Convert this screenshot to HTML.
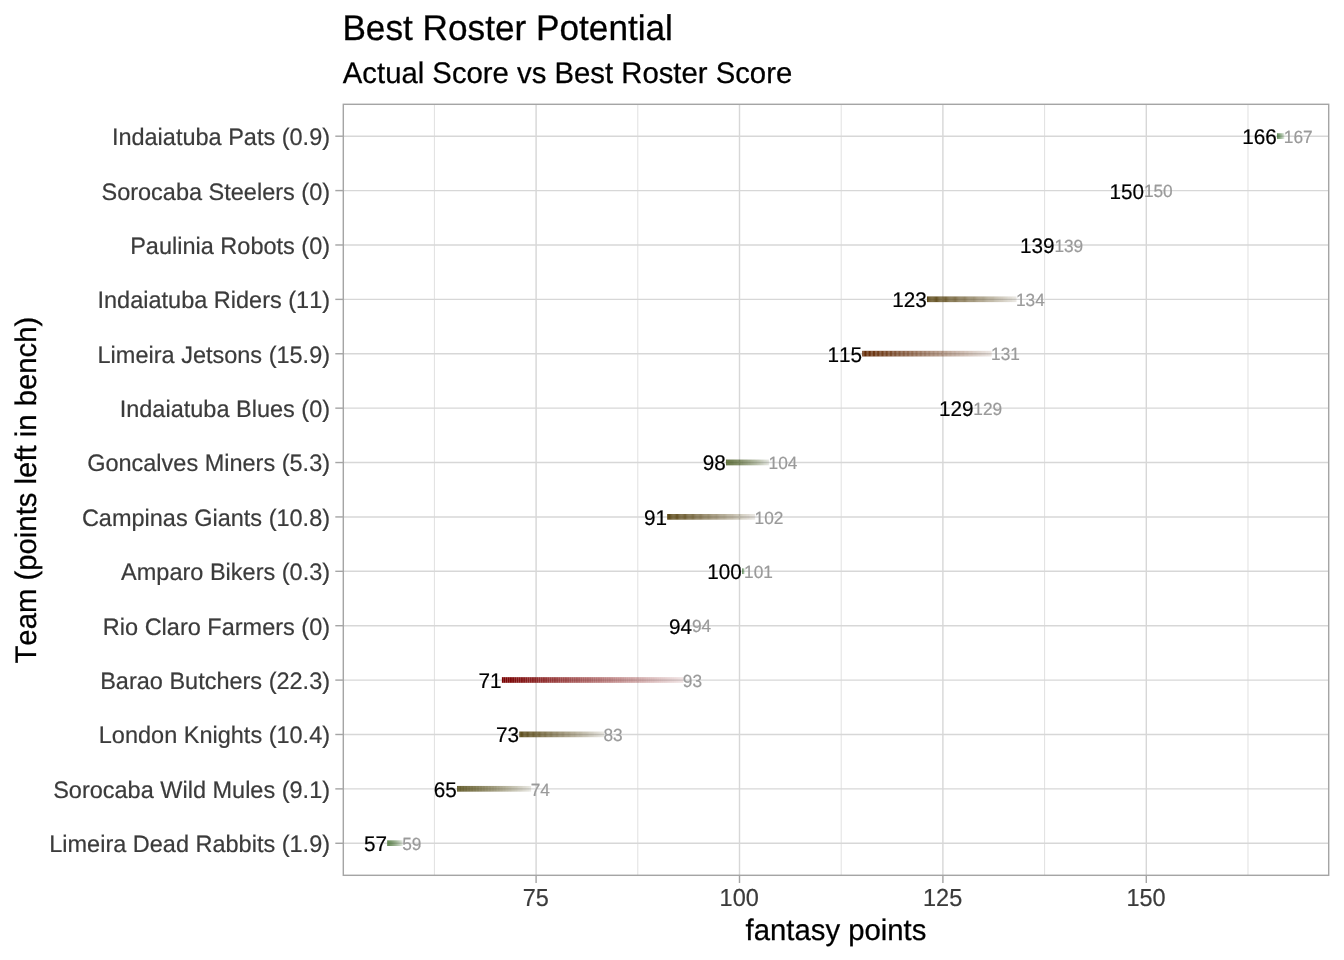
<!DOCTYPE html>
<html><head><meta charset="utf-8"><title>Best Roster Potential</title>
<style>
html,body{margin:0;padding:0;background:#fff;}
body{width:1344px;height:960px;overflow:hidden;}
svg{display:block;will-change:transform;}
text{font-family:"Liberation Sans", sans-serif;font-kerning:none;font-variant-ligatures:none;text-rendering:geometricPrecision;}
</style></head><body>
<svg width="1344" height="960" viewBox="0 0 1344 960">
<rect x="0" y="0" width="1344" height="960" fill="#ffffff"/>
<line x1="434.40" y1="104.30" x2="434.40" y2="875.30" stroke="#d7d7d7" stroke-width="0.78"/>
<line x1="637.80" y1="104.30" x2="637.80" y2="875.30" stroke="#d7d7d7" stroke-width="0.78"/>
<line x1="841.20" y1="104.30" x2="841.20" y2="875.30" stroke="#d7d7d7" stroke-width="0.78"/>
<line x1="1044.60" y1="104.30" x2="1044.60" y2="875.30" stroke="#d7d7d7" stroke-width="0.78"/>
<line x1="1248.00" y1="104.30" x2="1248.00" y2="875.30" stroke="#d7d7d7" stroke-width="0.78"/>
<line x1="536.10" y1="104.30" x2="536.10" y2="875.30" stroke="#d7d7d7" stroke-width="1.42"/>
<line x1="739.50" y1="104.30" x2="739.50" y2="875.30" stroke="#d7d7d7" stroke-width="1.42"/>
<line x1="942.90" y1="104.30" x2="942.90" y2="875.30" stroke="#d7d7d7" stroke-width="1.42"/>
<line x1="1146.30" y1="104.30" x2="1146.30" y2="875.30" stroke="#d7d7d7" stroke-width="1.42"/>
<line x1="343.30" y1="136.20" x2="1328.70" y2="136.20" stroke="#d7d7d7" stroke-width="1.42"/>
<line x1="343.30" y1="190.59" x2="1328.70" y2="190.59" stroke="#d7d7d7" stroke-width="1.42"/>
<line x1="343.30" y1="244.98" x2="1328.70" y2="244.98" stroke="#d7d7d7" stroke-width="1.42"/>
<line x1="343.30" y1="299.37" x2="1328.70" y2="299.37" stroke="#d7d7d7" stroke-width="1.42"/>
<line x1="343.30" y1="353.76" x2="1328.70" y2="353.76" stroke="#d7d7d7" stroke-width="1.42"/>
<line x1="343.30" y1="408.15" x2="1328.70" y2="408.15" stroke="#d7d7d7" stroke-width="1.42"/>
<line x1="343.30" y1="462.54" x2="1328.70" y2="462.54" stroke="#d7d7d7" stroke-width="1.42"/>
<line x1="343.30" y1="516.93" x2="1328.70" y2="516.93" stroke="#d7d7d7" stroke-width="1.42"/>
<line x1="343.30" y1="571.32" x2="1328.70" y2="571.32" stroke="#d7d7d7" stroke-width="1.42"/>
<line x1="343.30" y1="625.71" x2="1328.70" y2="625.71" stroke="#d7d7d7" stroke-width="1.42"/>
<line x1="343.30" y1="680.10" x2="1328.70" y2="680.10" stroke="#d7d7d7" stroke-width="1.42"/>
<line x1="343.30" y1="734.49" x2="1328.70" y2="734.49" stroke="#d7d7d7" stroke-width="1.42"/>
<line x1="343.30" y1="788.88" x2="1328.70" y2="788.88" stroke="#d7d7d7" stroke-width="1.42"/>
<line x1="343.30" y1="843.27" x2="1328.70" y2="843.27" stroke="#d7d7d7" stroke-width="1.42"/>
<g fill="#0d4f00">
<rect x="1277" y="133.26" width="1" height="5.67" fill-opacity="0.624"/>
<rect x="1278" y="133.26" width="1" height="5.67" fill-opacity="0.571"/>
<rect x="1279" y="133.26" width="1" height="5.67" fill-opacity="0.511"/>
<rect x="1280" y="133.26" width="1" height="5.67" fill-opacity="0.444"/>
<rect x="1281" y="133.26" width="1" height="5.67" fill-opacity="0.368"/>
<rect x="1282" y="133.26" width="1" height="5.67" fill-opacity="0.283"/>
<rect x="1283" y="133.26" width="1" height="5.67" fill-opacity="0.187"/>
<rect x="1284" y="133.26" width="1" height="5.67" fill-opacity="0.040"/>
</g>
<g fill="#4d3700">
<rect x="927.000" y="296.44" width="0.904" height="5.67" fill-opacity="1.000"/>
<rect x="927.904" y="296.44" width="0.904" height="5.67" fill-opacity="0.991"/>
<rect x="928.808" y="296.44" width="0.904" height="5.67" fill-opacity="0.982"/>
<rect x="929.712" y="296.44" width="0.904" height="5.67" fill-opacity="0.973"/>
<rect x="930.616" y="296.44" width="0.904" height="5.67" fill-opacity="0.964"/>
<rect x="931.520" y="296.44" width="0.904" height="5.67" fill-opacity="0.955"/>
<rect x="932.424" y="296.44" width="0.904" height="5.67" fill-opacity="0.945"/>
<rect x="933.328" y="296.44" width="0.904" height="5.67" fill-opacity="0.936"/>
<rect x="934.232" y="296.44" width="0.904" height="5.67" fill-opacity="0.927"/>
<rect x="935.136" y="296.44" width="0.904" height="5.67" fill-opacity="0.918"/>
<rect x="936.040" y="296.44" width="0.904" height="5.67" fill-opacity="0.909"/>
<rect x="936.944" y="296.44" width="0.904" height="5.67" fill-opacity="0.900"/>
<rect x="937.848" y="296.44" width="0.904" height="5.67" fill-opacity="0.891"/>
<rect x="938.752" y="296.44" width="0.904" height="5.67" fill-opacity="0.882"/>
<rect x="939.656" y="296.44" width="0.904" height="5.67" fill-opacity="0.873"/>
<rect x="940.560" y="296.44" width="0.904" height="5.67" fill-opacity="0.864"/>
<rect x="941.464" y="296.44" width="0.904" height="5.67" fill-opacity="0.855"/>
<rect x="942.368" y="296.44" width="0.904" height="5.67" fill-opacity="0.845"/>
<rect x="943.272" y="296.44" width="0.904" height="5.67" fill-opacity="0.836"/>
<rect x="944.176" y="296.44" width="0.904" height="5.67" fill-opacity="0.827"/>
<rect x="945.080" y="296.44" width="0.904" height="5.67" fill-opacity="0.818"/>
<rect x="945.984" y="296.44" width="0.904" height="5.67" fill-opacity="0.809"/>
<rect x="946.888" y="296.44" width="0.904" height="5.67" fill-opacity="0.800"/>
<rect x="947.792" y="296.44" width="0.904" height="5.67" fill-opacity="0.791"/>
<rect x="948.696" y="296.44" width="0.904" height="5.67" fill-opacity="0.782"/>
<rect x="949.600" y="296.44" width="0.904" height="5.67" fill-opacity="0.773"/>
<rect x="950.504" y="296.44" width="0.904" height="5.67" fill-opacity="0.764"/>
<rect x="951.408" y="296.44" width="0.904" height="5.67" fill-opacity="0.755"/>
<rect x="952.312" y="296.44" width="0.904" height="5.67" fill-opacity="0.745"/>
<rect x="953.216" y="296.44" width="0.904" height="5.67" fill-opacity="0.736"/>
<rect x="954.120" y="296.44" width="0.904" height="5.67" fill-opacity="0.727"/>
<rect x="955.024" y="296.44" width="0.904" height="5.67" fill-opacity="0.718"/>
<rect x="955.928" y="296.44" width="0.904" height="5.67" fill-opacity="0.709"/>
<rect x="956.832" y="296.44" width="0.904" height="5.67" fill-opacity="0.700"/>
<rect x="957.736" y="296.44" width="0.904" height="5.67" fill-opacity="0.691"/>
<rect x="958.640" y="296.44" width="0.904" height="5.67" fill-opacity="0.682"/>
<rect x="959.544" y="296.44" width="0.904" height="5.67" fill-opacity="0.673"/>
<rect x="960.448" y="296.44" width="0.904" height="5.67" fill-opacity="0.664"/>
<rect x="961.352" y="296.44" width="0.904" height="5.67" fill-opacity="0.655"/>
<rect x="962.256" y="296.44" width="0.904" height="5.67" fill-opacity="0.645"/>
<rect x="963.160" y="296.44" width="0.904" height="5.67" fill-opacity="0.636"/>
<rect x="964.064" y="296.44" width="0.904" height="5.67" fill-opacity="0.627"/>
<rect x="964.968" y="296.44" width="0.904" height="5.67" fill-opacity="0.618"/>
<rect x="965.872" y="296.44" width="0.904" height="5.67" fill-opacity="0.609"/>
<rect x="966.776" y="296.44" width="0.904" height="5.67" fill-opacity="0.600"/>
<rect x="967.680" y="296.44" width="0.904" height="5.67" fill-opacity="0.591"/>
<rect x="968.584" y="296.44" width="0.904" height="5.67" fill-opacity="0.582"/>
<rect x="969.488" y="296.44" width="0.904" height="5.67" fill-opacity="0.573"/>
<rect x="970.392" y="296.44" width="0.904" height="5.67" fill-opacity="0.564"/>
<rect x="971.296" y="296.44" width="0.904" height="5.67" fill-opacity="0.555"/>
<rect x="972.200" y="296.44" width="0.904" height="5.67" fill-opacity="0.545"/>
<rect x="973.104" y="296.44" width="0.904" height="5.67" fill-opacity="0.536"/>
<rect x="974.008" y="296.44" width="0.904" height="5.67" fill-opacity="0.527"/>
<rect x="974.912" y="296.44" width="0.904" height="5.67" fill-opacity="0.518"/>
<rect x="975.816" y="296.44" width="0.904" height="5.67" fill-opacity="0.509"/>
<rect x="976.720" y="296.44" width="0.904" height="5.67" fill-opacity="0.500"/>
<rect x="977.624" y="296.44" width="0.904" height="5.67" fill-opacity="0.491"/>
<rect x="978.528" y="296.44" width="0.904" height="5.67" fill-opacity="0.482"/>
<rect x="979.432" y="296.44" width="0.904" height="5.67" fill-opacity="0.473"/>
<rect x="980.336" y="296.44" width="0.904" height="5.67" fill-opacity="0.464"/>
<rect x="981.240" y="296.44" width="0.904" height="5.67" fill-opacity="0.455"/>
<rect x="982.144" y="296.44" width="0.904" height="5.67" fill-opacity="0.445"/>
<rect x="983.048" y="296.44" width="0.904" height="5.67" fill-opacity="0.436"/>
<rect x="983.952" y="296.44" width="0.904" height="5.67" fill-opacity="0.427"/>
<rect x="984.856" y="296.44" width="0.904" height="5.67" fill-opacity="0.418"/>
<rect x="985.760" y="296.44" width="0.904" height="5.67" fill-opacity="0.409"/>
<rect x="986.664" y="296.44" width="0.904" height="5.67" fill-opacity="0.400"/>
<rect x="987.568" y="296.44" width="0.904" height="5.67" fill-opacity="0.391"/>
<rect x="988.472" y="296.44" width="0.904" height="5.67" fill-opacity="0.382"/>
<rect x="989.376" y="296.44" width="0.904" height="5.67" fill-opacity="0.373"/>
<rect x="990.280" y="296.44" width="0.904" height="5.67" fill-opacity="0.364"/>
<rect x="991.184" y="296.44" width="0.904" height="5.67" fill-opacity="0.355"/>
<rect x="992.088" y="296.44" width="0.904" height="5.67" fill-opacity="0.345"/>
<rect x="992.992" y="296.44" width="0.904" height="5.67" fill-opacity="0.336"/>
<rect x="993.896" y="296.44" width="0.904" height="5.67" fill-opacity="0.327"/>
<rect x="994.800" y="296.44" width="0.904" height="5.67" fill-opacity="0.318"/>
<rect x="995.704" y="296.44" width="0.904" height="5.67" fill-opacity="0.309"/>
<rect x="996.608" y="296.44" width="0.904" height="5.67" fill-opacity="0.300"/>
<rect x="997.512" y="296.44" width="0.904" height="5.67" fill-opacity="0.291"/>
<rect x="998.416" y="296.44" width="0.904" height="5.67" fill-opacity="0.282"/>
<rect x="999.320" y="296.44" width="0.904" height="5.67" fill-opacity="0.273"/>
<rect x="1000.224" y="296.44" width="0.904" height="5.67" fill-opacity="0.264"/>
<rect x="1001.128" y="296.44" width="0.904" height="5.67" fill-opacity="0.255"/>
<rect x="1002.032" y="296.44" width="0.904" height="5.67" fill-opacity="0.245"/>
<rect x="1002.936" y="296.44" width="0.904" height="5.67" fill-opacity="0.236"/>
<rect x="1003.840" y="296.44" width="0.904" height="5.67" fill-opacity="0.227"/>
<rect x="1004.744" y="296.44" width="0.904" height="5.67" fill-opacity="0.218"/>
<rect x="1005.648" y="296.44" width="0.904" height="5.67" fill-opacity="0.209"/>
<rect x="1006.552" y="296.44" width="0.904" height="5.67" fill-opacity="0.200"/>
<rect x="1007.456" y="296.44" width="0.904" height="5.67" fill-opacity="0.191"/>
<rect x="1008.360" y="296.44" width="0.904" height="5.67" fill-opacity="0.182"/>
<rect x="1009.264" y="296.44" width="0.904" height="5.67" fill-opacity="0.173"/>
<rect x="1010.168" y="296.44" width="0.904" height="5.67" fill-opacity="0.164"/>
<rect x="1011.072" y="296.44" width="0.904" height="5.67" fill-opacity="0.155"/>
<rect x="1011.976" y="296.44" width="0.904" height="5.67" fill-opacity="0.145"/>
<rect x="1012.880" y="296.44" width="0.904" height="5.67" fill-opacity="0.136"/>
<rect x="1013.784" y="296.44" width="0.904" height="5.67" fill-opacity="0.127"/>
<rect x="1014.688" y="296.44" width="0.904" height="5.67" fill-opacity="0.118"/>
<rect x="1015.592" y="296.44" width="0.904" height="5.67" fill-opacity="0.109"/>
</g>
<g fill="#612700">
<rect x="862.250" y="350.82" width="1.307" height="5.67" fill-opacity="1.000"/>
<rect x="863.557" y="350.82" width="1.307" height="5.67" fill-opacity="0.991"/>
<rect x="864.863" y="350.82" width="1.307" height="5.67" fill-opacity="0.982"/>
<rect x="866.170" y="350.82" width="1.307" height="5.67" fill-opacity="0.973"/>
<rect x="867.477" y="350.82" width="1.307" height="5.67" fill-opacity="0.964"/>
<rect x="868.783" y="350.82" width="1.307" height="5.67" fill-opacity="0.955"/>
<rect x="870.090" y="350.82" width="1.307" height="5.67" fill-opacity="0.945"/>
<rect x="871.397" y="350.82" width="1.307" height="5.67" fill-opacity="0.936"/>
<rect x="872.704" y="350.82" width="1.307" height="5.67" fill-opacity="0.927"/>
<rect x="874.010" y="350.82" width="1.307" height="5.67" fill-opacity="0.918"/>
<rect x="875.317" y="350.82" width="1.307" height="5.67" fill-opacity="0.909"/>
<rect x="876.624" y="350.82" width="1.307" height="5.67" fill-opacity="0.900"/>
<rect x="877.930" y="350.82" width="1.307" height="5.67" fill-opacity="0.891"/>
<rect x="879.237" y="350.82" width="1.307" height="5.67" fill-opacity="0.882"/>
<rect x="880.544" y="350.82" width="1.307" height="5.67" fill-opacity="0.873"/>
<rect x="881.850" y="350.82" width="1.307" height="5.67" fill-opacity="0.864"/>
<rect x="883.157" y="350.82" width="1.307" height="5.67" fill-opacity="0.855"/>
<rect x="884.464" y="350.82" width="1.307" height="5.67" fill-opacity="0.845"/>
<rect x="885.770" y="350.82" width="1.307" height="5.67" fill-opacity="0.836"/>
<rect x="887.077" y="350.82" width="1.307" height="5.67" fill-opacity="0.827"/>
<rect x="888.384" y="350.82" width="1.307" height="5.67" fill-opacity="0.818"/>
<rect x="889.691" y="350.82" width="1.307" height="5.67" fill-opacity="0.809"/>
<rect x="890.997" y="350.82" width="1.307" height="5.67" fill-opacity="0.800"/>
<rect x="892.304" y="350.82" width="1.307" height="5.67" fill-opacity="0.791"/>
<rect x="893.611" y="350.82" width="1.307" height="5.67" fill-opacity="0.782"/>
<rect x="894.917" y="350.82" width="1.307" height="5.67" fill-opacity="0.773"/>
<rect x="896.224" y="350.82" width="1.307" height="5.67" fill-opacity="0.764"/>
<rect x="897.531" y="350.82" width="1.307" height="5.67" fill-opacity="0.755"/>
<rect x="898.837" y="350.82" width="1.307" height="5.67" fill-opacity="0.745"/>
<rect x="900.144" y="350.82" width="1.307" height="5.67" fill-opacity="0.736"/>
<rect x="901.451" y="350.82" width="1.307" height="5.67" fill-opacity="0.727"/>
<rect x="902.757" y="350.82" width="1.307" height="5.67" fill-opacity="0.718"/>
<rect x="904.064" y="350.82" width="1.307" height="5.67" fill-opacity="0.709"/>
<rect x="905.371" y="350.82" width="1.307" height="5.67" fill-opacity="0.700"/>
<rect x="906.677" y="350.82" width="1.307" height="5.67" fill-opacity="0.691"/>
<rect x="907.984" y="350.82" width="1.307" height="5.67" fill-opacity="0.682"/>
<rect x="909.291" y="350.82" width="1.307" height="5.67" fill-opacity="0.673"/>
<rect x="910.598" y="350.82" width="1.307" height="5.67" fill-opacity="0.664"/>
<rect x="911.904" y="350.82" width="1.307" height="5.67" fill-opacity="0.655"/>
<rect x="913.211" y="350.82" width="1.307" height="5.67" fill-opacity="0.645"/>
<rect x="914.518" y="350.82" width="1.307" height="5.67" fill-opacity="0.636"/>
<rect x="915.824" y="350.82" width="1.307" height="5.67" fill-opacity="0.627"/>
<rect x="917.131" y="350.82" width="1.307" height="5.67" fill-opacity="0.618"/>
<rect x="918.438" y="350.82" width="1.307" height="5.67" fill-opacity="0.609"/>
<rect x="919.744" y="350.82" width="1.307" height="5.67" fill-opacity="0.600"/>
<rect x="921.051" y="350.82" width="1.307" height="5.67" fill-opacity="0.591"/>
<rect x="922.358" y="350.82" width="1.307" height="5.67" fill-opacity="0.582"/>
<rect x="923.664" y="350.82" width="1.307" height="5.67" fill-opacity="0.573"/>
<rect x="924.971" y="350.82" width="1.307" height="5.67" fill-opacity="0.564"/>
<rect x="926.278" y="350.82" width="1.307" height="5.67" fill-opacity="0.555"/>
<rect x="927.585" y="350.82" width="1.307" height="5.67" fill-opacity="0.545"/>
<rect x="928.891" y="350.82" width="1.307" height="5.67" fill-opacity="0.536"/>
<rect x="930.198" y="350.82" width="1.307" height="5.67" fill-opacity="0.527"/>
<rect x="931.505" y="350.82" width="1.307" height="5.67" fill-opacity="0.518"/>
<rect x="932.811" y="350.82" width="1.307" height="5.67" fill-opacity="0.509"/>
<rect x="934.118" y="350.82" width="1.307" height="5.67" fill-opacity="0.500"/>
<rect x="935.425" y="350.82" width="1.307" height="5.67" fill-opacity="0.491"/>
<rect x="936.731" y="350.82" width="1.307" height="5.67" fill-opacity="0.482"/>
<rect x="938.038" y="350.82" width="1.307" height="5.67" fill-opacity="0.473"/>
<rect x="939.345" y="350.82" width="1.307" height="5.67" fill-opacity="0.464"/>
<rect x="940.651" y="350.82" width="1.307" height="5.67" fill-opacity="0.455"/>
<rect x="941.958" y="350.82" width="1.307" height="5.67" fill-opacity="0.445"/>
<rect x="943.265" y="350.82" width="1.307" height="5.67" fill-opacity="0.436"/>
<rect x="944.572" y="350.82" width="1.307" height="5.67" fill-opacity="0.427"/>
<rect x="945.878" y="350.82" width="1.307" height="5.67" fill-opacity="0.418"/>
<rect x="947.185" y="350.82" width="1.307" height="5.67" fill-opacity="0.409"/>
<rect x="948.492" y="350.82" width="1.307" height="5.67" fill-opacity="0.400"/>
<rect x="949.798" y="350.82" width="1.307" height="5.67" fill-opacity="0.391"/>
<rect x="951.105" y="350.82" width="1.307" height="5.67" fill-opacity="0.382"/>
<rect x="952.412" y="350.82" width="1.307" height="5.67" fill-opacity="0.373"/>
<rect x="953.718" y="350.82" width="1.307" height="5.67" fill-opacity="0.364"/>
<rect x="955.025" y="350.82" width="1.307" height="5.67" fill-opacity="0.355"/>
<rect x="956.332" y="350.82" width="1.307" height="5.67" fill-opacity="0.345"/>
<rect x="957.638" y="350.82" width="1.307" height="5.67" fill-opacity="0.336"/>
<rect x="958.945" y="350.82" width="1.307" height="5.67" fill-opacity="0.327"/>
<rect x="960.252" y="350.82" width="1.307" height="5.67" fill-opacity="0.318"/>
<rect x="961.559" y="350.82" width="1.307" height="5.67" fill-opacity="0.309"/>
<rect x="962.865" y="350.82" width="1.307" height="5.67" fill-opacity="0.300"/>
<rect x="964.172" y="350.82" width="1.307" height="5.67" fill-opacity="0.291"/>
<rect x="965.479" y="350.82" width="1.307" height="5.67" fill-opacity="0.282"/>
<rect x="966.785" y="350.82" width="1.307" height="5.67" fill-opacity="0.273"/>
<rect x="968.092" y="350.82" width="1.307" height="5.67" fill-opacity="0.264"/>
<rect x="969.399" y="350.82" width="1.307" height="5.67" fill-opacity="0.255"/>
<rect x="970.705" y="350.82" width="1.307" height="5.67" fill-opacity="0.245"/>
<rect x="972.012" y="350.82" width="1.307" height="5.67" fill-opacity="0.236"/>
<rect x="973.319" y="350.82" width="1.307" height="5.67" fill-opacity="0.227"/>
<rect x="974.625" y="350.82" width="1.307" height="5.67" fill-opacity="0.218"/>
<rect x="975.932" y="350.82" width="1.307" height="5.67" fill-opacity="0.209"/>
<rect x="977.239" y="350.82" width="1.307" height="5.67" fill-opacity="0.200"/>
<rect x="978.545" y="350.82" width="1.307" height="5.67" fill-opacity="0.191"/>
<rect x="979.852" y="350.82" width="1.307" height="5.67" fill-opacity="0.182"/>
<rect x="981.159" y="350.82" width="1.307" height="5.67" fill-opacity="0.173"/>
<rect x="982.466" y="350.82" width="1.307" height="5.67" fill-opacity="0.164"/>
<rect x="983.772" y="350.82" width="1.307" height="5.67" fill-opacity="0.155"/>
<rect x="985.079" y="350.82" width="1.307" height="5.67" fill-opacity="0.145"/>
<rect x="986.386" y="350.82" width="1.307" height="5.67" fill-opacity="0.136"/>
<rect x="987.692" y="350.82" width="1.307" height="5.67" fill-opacity="0.127"/>
<rect x="988.999" y="350.82" width="1.307" height="5.67" fill-opacity="0.118"/>
<rect x="990.306" y="350.82" width="1.307" height="5.67" fill-opacity="0.109"/>
</g>
<g fill="#304500">
<rect x="726.000" y="459.61" width="0.436" height="5.67" fill-opacity="1.000"/>
<rect x="726.436" y="459.61" width="0.436" height="5.67" fill-opacity="0.991"/>
<rect x="726.871" y="459.61" width="0.436" height="5.67" fill-opacity="0.982"/>
<rect x="727.307" y="459.61" width="0.436" height="5.67" fill-opacity="0.973"/>
<rect x="727.742" y="459.61" width="0.436" height="5.67" fill-opacity="0.964"/>
<rect x="728.178" y="459.61" width="0.436" height="5.67" fill-opacity="0.955"/>
<rect x="728.613" y="459.61" width="0.436" height="5.67" fill-opacity="0.945"/>
<rect x="729.049" y="459.61" width="0.436" height="5.67" fill-opacity="0.936"/>
<rect x="729.485" y="459.61" width="0.436" height="5.67" fill-opacity="0.927"/>
<rect x="729.920" y="459.61" width="0.436" height="5.67" fill-opacity="0.918"/>
<rect x="730.356" y="459.61" width="0.436" height="5.67" fill-opacity="0.909"/>
<rect x="730.791" y="459.61" width="0.436" height="5.67" fill-opacity="0.900"/>
<rect x="731.227" y="459.61" width="0.436" height="5.67" fill-opacity="0.891"/>
<rect x="731.662" y="459.61" width="0.436" height="5.67" fill-opacity="0.882"/>
<rect x="732.098" y="459.61" width="0.436" height="5.67" fill-opacity="0.873"/>
<rect x="732.533" y="459.61" width="0.436" height="5.67" fill-opacity="0.864"/>
<rect x="732.969" y="459.61" width="0.436" height="5.67" fill-opacity="0.855"/>
<rect x="733.405" y="459.61" width="0.436" height="5.67" fill-opacity="0.845"/>
<rect x="733.840" y="459.61" width="0.436" height="5.67" fill-opacity="0.836"/>
<rect x="734.276" y="459.61" width="0.436" height="5.67" fill-opacity="0.827"/>
<rect x="734.711" y="459.61" width="0.436" height="5.67" fill-opacity="0.818"/>
<rect x="735.147" y="459.61" width="0.436" height="5.67" fill-opacity="0.809"/>
<rect x="735.582" y="459.61" width="0.436" height="5.67" fill-opacity="0.800"/>
<rect x="736.018" y="459.61" width="0.436" height="5.67" fill-opacity="0.791"/>
<rect x="736.454" y="459.61" width="0.436" height="5.67" fill-opacity="0.782"/>
<rect x="736.889" y="459.61" width="0.436" height="5.67" fill-opacity="0.773"/>
<rect x="737.325" y="459.61" width="0.436" height="5.67" fill-opacity="0.764"/>
<rect x="737.760" y="459.61" width="0.436" height="5.67" fill-opacity="0.755"/>
<rect x="738.196" y="459.61" width="0.436" height="5.67" fill-opacity="0.745"/>
<rect x="738.631" y="459.61" width="0.436" height="5.67" fill-opacity="0.736"/>
<rect x="739.067" y="459.61" width="0.436" height="5.67" fill-opacity="0.727"/>
<rect x="739.502" y="459.61" width="0.436" height="5.67" fill-opacity="0.718"/>
<rect x="739.938" y="459.61" width="0.436" height="5.67" fill-opacity="0.709"/>
<rect x="740.374" y="459.61" width="0.436" height="5.67" fill-opacity="0.700"/>
<rect x="740.809" y="459.61" width="0.436" height="5.67" fill-opacity="0.691"/>
<rect x="741.245" y="459.61" width="0.436" height="5.67" fill-opacity="0.682"/>
<rect x="741.680" y="459.61" width="0.436" height="5.67" fill-opacity="0.673"/>
<rect x="742.116" y="459.61" width="0.436" height="5.67" fill-opacity="0.664"/>
<rect x="742.551" y="459.61" width="0.436" height="5.67" fill-opacity="0.655"/>
<rect x="742.987" y="459.61" width="0.436" height="5.67" fill-opacity="0.645"/>
<rect x="743.423" y="459.61" width="0.436" height="5.67" fill-opacity="0.636"/>
<rect x="743.858" y="459.61" width="0.436" height="5.67" fill-opacity="0.627"/>
<rect x="744.294" y="459.61" width="0.436" height="5.67" fill-opacity="0.618"/>
<rect x="744.729" y="459.61" width="0.436" height="5.67" fill-opacity="0.609"/>
<rect x="745.165" y="459.61" width="0.436" height="5.67" fill-opacity="0.600"/>
<rect x="745.600" y="459.61" width="0.436" height="5.67" fill-opacity="0.591"/>
<rect x="746.036" y="459.61" width="0.436" height="5.67" fill-opacity="0.582"/>
<rect x="746.471" y="459.61" width="0.436" height="5.67" fill-opacity="0.573"/>
<rect x="746.907" y="459.61" width="0.436" height="5.67" fill-opacity="0.564"/>
<rect x="747.343" y="459.61" width="0.436" height="5.67" fill-opacity="0.555"/>
<rect x="747.778" y="459.61" width="0.436" height="5.67" fill-opacity="0.545"/>
<rect x="748.214" y="459.61" width="0.436" height="5.67" fill-opacity="0.536"/>
<rect x="748.649" y="459.61" width="0.436" height="5.67" fill-opacity="0.527"/>
<rect x="749.085" y="459.61" width="0.436" height="5.67" fill-opacity="0.518"/>
<rect x="749.520" y="459.61" width="0.436" height="5.67" fill-opacity="0.509"/>
<rect x="749.956" y="459.61" width="0.436" height="5.67" fill-opacity="0.500"/>
<rect x="750.392" y="459.61" width="0.436" height="5.67" fill-opacity="0.491"/>
<rect x="750.827" y="459.61" width="0.436" height="5.67" fill-opacity="0.482"/>
<rect x="751.263" y="459.61" width="0.436" height="5.67" fill-opacity="0.473"/>
<rect x="751.698" y="459.61" width="0.436" height="5.67" fill-opacity="0.464"/>
<rect x="752.134" y="459.61" width="0.436" height="5.67" fill-opacity="0.455"/>
<rect x="752.569" y="459.61" width="0.436" height="5.67" fill-opacity="0.445"/>
<rect x="753.005" y="459.61" width="0.436" height="5.67" fill-opacity="0.436"/>
<rect x="753.441" y="459.61" width="0.436" height="5.67" fill-opacity="0.427"/>
<rect x="753.876" y="459.61" width="0.436" height="5.67" fill-opacity="0.418"/>
<rect x="754.312" y="459.61" width="0.436" height="5.67" fill-opacity="0.409"/>
<rect x="754.747" y="459.61" width="0.436" height="5.67" fill-opacity="0.400"/>
<rect x="755.183" y="459.61" width="0.436" height="5.67" fill-opacity="0.391"/>
<rect x="755.618" y="459.61" width="0.436" height="5.67" fill-opacity="0.382"/>
<rect x="756.054" y="459.61" width="0.436" height="5.67" fill-opacity="0.373"/>
<rect x="756.489" y="459.61" width="0.436" height="5.67" fill-opacity="0.364"/>
<rect x="756.925" y="459.61" width="0.436" height="5.67" fill-opacity="0.355"/>
<rect x="757.361" y="459.61" width="0.436" height="5.67" fill-opacity="0.345"/>
<rect x="757.796" y="459.61" width="0.436" height="5.67" fill-opacity="0.336"/>
<rect x="758.232" y="459.61" width="0.436" height="5.67" fill-opacity="0.327"/>
<rect x="758.667" y="459.61" width="0.436" height="5.67" fill-opacity="0.318"/>
<rect x="759.103" y="459.61" width="0.436" height="5.67" fill-opacity="0.309"/>
<rect x="759.538" y="459.61" width="0.436" height="5.67" fill-opacity="0.300"/>
<rect x="759.974" y="459.61" width="0.436" height="5.67" fill-opacity="0.291"/>
<rect x="760.410" y="459.61" width="0.436" height="5.67" fill-opacity="0.282"/>
<rect x="760.845" y="459.61" width="0.436" height="5.67" fill-opacity="0.273"/>
<rect x="761.281" y="459.61" width="0.436" height="5.67" fill-opacity="0.264"/>
<rect x="761.716" y="459.61" width="0.436" height="5.67" fill-opacity="0.255"/>
<rect x="762.152" y="459.61" width="0.436" height="5.67" fill-opacity="0.245"/>
<rect x="762.587" y="459.61" width="0.436" height="5.67" fill-opacity="0.236"/>
<rect x="763.023" y="459.61" width="0.436" height="5.67" fill-opacity="0.227"/>
<rect x="763.458" y="459.61" width="0.436" height="5.67" fill-opacity="0.218"/>
<rect x="763.894" y="459.61" width="0.436" height="5.67" fill-opacity="0.209"/>
<rect x="764.330" y="459.61" width="0.436" height="5.67" fill-opacity="0.200"/>
<rect x="764.765" y="459.61" width="0.436" height="5.67" fill-opacity="0.191"/>
<rect x="765.201" y="459.61" width="0.436" height="5.67" fill-opacity="0.182"/>
<rect x="765.636" y="459.61" width="0.436" height="5.67" fill-opacity="0.173"/>
<rect x="766.072" y="459.61" width="0.436" height="5.67" fill-opacity="0.164"/>
<rect x="766.507" y="459.61" width="0.436" height="5.67" fill-opacity="0.155"/>
<rect x="766.943" y="459.61" width="0.436" height="5.67" fill-opacity="0.145"/>
<rect x="767.379" y="459.61" width="0.436" height="5.67" fill-opacity="0.136"/>
<rect x="767.814" y="459.61" width="0.436" height="5.67" fill-opacity="0.127"/>
<rect x="768.250" y="459.61" width="0.436" height="5.67" fill-opacity="0.118"/>
<rect x="768.685" y="459.61" width="0.436" height="5.67" fill-opacity="0.109"/>
</g>
<g fill="#4c3700">
<rect x="667.250" y="514.00" width="0.888" height="5.67" fill-opacity="1.000"/>
<rect x="668.138" y="514.00" width="0.888" height="5.67" fill-opacity="0.991"/>
<rect x="669.025" y="514.00" width="0.888" height="5.67" fill-opacity="0.982"/>
<rect x="669.913" y="514.00" width="0.888" height="5.67" fill-opacity="0.973"/>
<rect x="670.800" y="514.00" width="0.888" height="5.67" fill-opacity="0.964"/>
<rect x="671.688" y="514.00" width="0.888" height="5.67" fill-opacity="0.955"/>
<rect x="672.575" y="514.00" width="0.888" height="5.67" fill-opacity="0.945"/>
<rect x="673.463" y="514.00" width="0.888" height="5.67" fill-opacity="0.936"/>
<rect x="674.351" y="514.00" width="0.888" height="5.67" fill-opacity="0.927"/>
<rect x="675.238" y="514.00" width="0.888" height="5.67" fill-opacity="0.918"/>
<rect x="676.126" y="514.00" width="0.888" height="5.67" fill-opacity="0.909"/>
<rect x="677.013" y="514.00" width="0.888" height="5.67" fill-opacity="0.900"/>
<rect x="677.901" y="514.00" width="0.888" height="5.67" fill-opacity="0.891"/>
<rect x="678.788" y="514.00" width="0.888" height="5.67" fill-opacity="0.882"/>
<rect x="679.676" y="514.00" width="0.888" height="5.67" fill-opacity="0.873"/>
<rect x="680.563" y="514.00" width="0.888" height="5.67" fill-opacity="0.864"/>
<rect x="681.451" y="514.00" width="0.888" height="5.67" fill-opacity="0.855"/>
<rect x="682.339" y="514.00" width="0.888" height="5.67" fill-opacity="0.845"/>
<rect x="683.226" y="514.00" width="0.888" height="5.67" fill-opacity="0.836"/>
<rect x="684.114" y="514.00" width="0.888" height="5.67" fill-opacity="0.827"/>
<rect x="685.001" y="514.00" width="0.888" height="5.67" fill-opacity="0.818"/>
<rect x="685.889" y="514.00" width="0.888" height="5.67" fill-opacity="0.809"/>
<rect x="686.776" y="514.00" width="0.888" height="5.67" fill-opacity="0.800"/>
<rect x="687.664" y="514.00" width="0.888" height="5.67" fill-opacity="0.791"/>
<rect x="688.552" y="514.00" width="0.888" height="5.67" fill-opacity="0.782"/>
<rect x="689.439" y="514.00" width="0.888" height="5.67" fill-opacity="0.773"/>
<rect x="690.327" y="514.00" width="0.888" height="5.67" fill-opacity="0.764"/>
<rect x="691.214" y="514.00" width="0.888" height="5.67" fill-opacity="0.755"/>
<rect x="692.102" y="514.00" width="0.888" height="5.67" fill-opacity="0.745"/>
<rect x="692.989" y="514.00" width="0.888" height="5.67" fill-opacity="0.736"/>
<rect x="693.877" y="514.00" width="0.888" height="5.67" fill-opacity="0.727"/>
<rect x="694.764" y="514.00" width="0.888" height="5.67" fill-opacity="0.718"/>
<rect x="695.652" y="514.00" width="0.888" height="5.67" fill-opacity="0.709"/>
<rect x="696.540" y="514.00" width="0.888" height="5.67" fill-opacity="0.700"/>
<rect x="697.427" y="514.00" width="0.888" height="5.67" fill-opacity="0.691"/>
<rect x="698.315" y="514.00" width="0.888" height="5.67" fill-opacity="0.682"/>
<rect x="699.202" y="514.00" width="0.888" height="5.67" fill-opacity="0.673"/>
<rect x="700.090" y="514.00" width="0.888" height="5.67" fill-opacity="0.664"/>
<rect x="700.977" y="514.00" width="0.888" height="5.67" fill-opacity="0.655"/>
<rect x="701.865" y="514.00" width="0.888" height="5.67" fill-opacity="0.645"/>
<rect x="702.753" y="514.00" width="0.888" height="5.67" fill-opacity="0.636"/>
<rect x="703.640" y="514.00" width="0.888" height="5.67" fill-opacity="0.627"/>
<rect x="704.528" y="514.00" width="0.888" height="5.67" fill-opacity="0.618"/>
<rect x="705.415" y="514.00" width="0.888" height="5.67" fill-opacity="0.609"/>
<rect x="706.303" y="514.00" width="0.888" height="5.67" fill-opacity="0.600"/>
<rect x="707.190" y="514.00" width="0.888" height="5.67" fill-opacity="0.591"/>
<rect x="708.078" y="514.00" width="0.888" height="5.67" fill-opacity="0.582"/>
<rect x="708.965" y="514.00" width="0.888" height="5.67" fill-opacity="0.573"/>
<rect x="709.853" y="514.00" width="0.888" height="5.67" fill-opacity="0.564"/>
<rect x="710.741" y="514.00" width="0.888" height="5.67" fill-opacity="0.555"/>
<rect x="711.628" y="514.00" width="0.888" height="5.67" fill-opacity="0.545"/>
<rect x="712.516" y="514.00" width="0.888" height="5.67" fill-opacity="0.536"/>
<rect x="713.403" y="514.00" width="0.888" height="5.67" fill-opacity="0.527"/>
<rect x="714.291" y="514.00" width="0.888" height="5.67" fill-opacity="0.518"/>
<rect x="715.178" y="514.00" width="0.888" height="5.67" fill-opacity="0.509"/>
<rect x="716.066" y="514.00" width="0.888" height="5.67" fill-opacity="0.500"/>
<rect x="716.954" y="514.00" width="0.888" height="5.67" fill-opacity="0.491"/>
<rect x="717.841" y="514.00" width="0.888" height="5.67" fill-opacity="0.482"/>
<rect x="718.729" y="514.00" width="0.888" height="5.67" fill-opacity="0.473"/>
<rect x="719.616" y="514.00" width="0.888" height="5.67" fill-opacity="0.464"/>
<rect x="720.504" y="514.00" width="0.888" height="5.67" fill-opacity="0.455"/>
<rect x="721.391" y="514.00" width="0.888" height="5.67" fill-opacity="0.445"/>
<rect x="722.279" y="514.00" width="0.888" height="5.67" fill-opacity="0.436"/>
<rect x="723.167" y="514.00" width="0.888" height="5.67" fill-opacity="0.427"/>
<rect x="724.054" y="514.00" width="0.888" height="5.67" fill-opacity="0.418"/>
<rect x="724.942" y="514.00" width="0.888" height="5.67" fill-opacity="0.409"/>
<rect x="725.829" y="514.00" width="0.888" height="5.67" fill-opacity="0.400"/>
<rect x="726.717" y="514.00" width="0.888" height="5.67" fill-opacity="0.391"/>
<rect x="727.604" y="514.00" width="0.888" height="5.67" fill-opacity="0.382"/>
<rect x="728.492" y="514.00" width="0.888" height="5.67" fill-opacity="0.373"/>
<rect x="729.379" y="514.00" width="0.888" height="5.67" fill-opacity="0.364"/>
<rect x="730.267" y="514.00" width="0.888" height="5.67" fill-opacity="0.355"/>
<rect x="731.155" y="514.00" width="0.888" height="5.67" fill-opacity="0.345"/>
<rect x="732.042" y="514.00" width="0.888" height="5.67" fill-opacity="0.336"/>
<rect x="732.930" y="514.00" width="0.888" height="5.67" fill-opacity="0.327"/>
<rect x="733.817" y="514.00" width="0.888" height="5.67" fill-opacity="0.318"/>
<rect x="734.705" y="514.00" width="0.888" height="5.67" fill-opacity="0.309"/>
<rect x="735.592" y="514.00" width="0.888" height="5.67" fill-opacity="0.300"/>
<rect x="736.480" y="514.00" width="0.888" height="5.67" fill-opacity="0.291"/>
<rect x="737.368" y="514.00" width="0.888" height="5.67" fill-opacity="0.282"/>
<rect x="738.255" y="514.00" width="0.888" height="5.67" fill-opacity="0.273"/>
<rect x="739.143" y="514.00" width="0.888" height="5.67" fill-opacity="0.264"/>
<rect x="740.030" y="514.00" width="0.888" height="5.67" fill-opacity="0.255"/>
<rect x="740.918" y="514.00" width="0.888" height="5.67" fill-opacity="0.245"/>
<rect x="741.805" y="514.00" width="0.888" height="5.67" fill-opacity="0.236"/>
<rect x="742.693" y="514.00" width="0.888" height="5.67" fill-opacity="0.227"/>
<rect x="743.580" y="514.00" width="0.888" height="5.67" fill-opacity="0.218"/>
<rect x="744.468" y="514.00" width="0.888" height="5.67" fill-opacity="0.209"/>
<rect x="745.356" y="514.00" width="0.888" height="5.67" fill-opacity="0.200"/>
<rect x="746.243" y="514.00" width="0.888" height="5.67" fill-opacity="0.191"/>
<rect x="747.131" y="514.00" width="0.888" height="5.67" fill-opacity="0.182"/>
<rect x="748.018" y="514.00" width="0.888" height="5.67" fill-opacity="0.173"/>
<rect x="748.906" y="514.00" width="0.888" height="5.67" fill-opacity="0.164"/>
<rect x="749.793" y="514.00" width="0.888" height="5.67" fill-opacity="0.155"/>
<rect x="750.681" y="514.00" width="0.888" height="5.67" fill-opacity="0.145"/>
<rect x="751.569" y="514.00" width="0.888" height="5.67" fill-opacity="0.136"/>
<rect x="752.456" y="514.00" width="0.888" height="5.67" fill-opacity="0.127"/>
<rect x="753.344" y="514.00" width="0.888" height="5.67" fill-opacity="0.118"/>
<rect x="754.231" y="514.00" width="0.888" height="5.67" fill-opacity="0.109"/>
</g>
<g fill="#055000">
<rect x="742" y="568.38" width="1" height="5.67" fill-opacity="0.534"/>
<rect x="743" y="568.38" width="1" height="5.67" fill-opacity="0.388"/>
<rect x="744" y="568.38" width="1" height="5.67" fill-opacity="0.105"/>
</g>
<g fill="#790000">
<rect x="501.900" y="677.16" width="1.833" height="5.67" fill-opacity="1.000"/>
<rect x="503.733" y="677.16" width="1.833" height="5.67" fill-opacity="0.991"/>
<rect x="505.565" y="677.16" width="1.833" height="5.67" fill-opacity="0.982"/>
<rect x="507.398" y="677.16" width="1.833" height="5.67" fill-opacity="0.973"/>
<rect x="509.231" y="677.16" width="1.833" height="5.67" fill-opacity="0.964"/>
<rect x="511.063" y="677.16" width="1.833" height="5.67" fill-opacity="0.955"/>
<rect x="512.896" y="677.16" width="1.833" height="5.67" fill-opacity="0.945"/>
<rect x="514.729" y="677.16" width="1.833" height="5.67" fill-opacity="0.936"/>
<rect x="516.561" y="677.16" width="1.833" height="5.67" fill-opacity="0.927"/>
<rect x="518.394" y="677.16" width="1.833" height="5.67" fill-opacity="0.918"/>
<rect x="520.227" y="677.16" width="1.833" height="5.67" fill-opacity="0.909"/>
<rect x="522.059" y="677.16" width="1.833" height="5.67" fill-opacity="0.900"/>
<rect x="523.892" y="677.16" width="1.833" height="5.67" fill-opacity="0.891"/>
<rect x="525.725" y="677.16" width="1.833" height="5.67" fill-opacity="0.882"/>
<rect x="527.557" y="677.16" width="1.833" height="5.67" fill-opacity="0.873"/>
<rect x="529.390" y="677.16" width="1.833" height="5.67" fill-opacity="0.864"/>
<rect x="531.222" y="677.16" width="1.833" height="5.67" fill-opacity="0.855"/>
<rect x="533.055" y="677.16" width="1.833" height="5.67" fill-opacity="0.845"/>
<rect x="534.888" y="677.16" width="1.833" height="5.67" fill-opacity="0.836"/>
<rect x="536.720" y="677.16" width="1.833" height="5.67" fill-opacity="0.827"/>
<rect x="538.553" y="677.16" width="1.833" height="5.67" fill-opacity="0.818"/>
<rect x="540.386" y="677.16" width="1.833" height="5.67" fill-opacity="0.809"/>
<rect x="542.218" y="677.16" width="1.833" height="5.67" fill-opacity="0.800"/>
<rect x="544.051" y="677.16" width="1.833" height="5.67" fill-opacity="0.791"/>
<rect x="545.884" y="677.16" width="1.833" height="5.67" fill-opacity="0.782"/>
<rect x="547.716" y="677.16" width="1.833" height="5.67" fill-opacity="0.773"/>
<rect x="549.549" y="677.16" width="1.833" height="5.67" fill-opacity="0.764"/>
<rect x="551.382" y="677.16" width="1.833" height="5.67" fill-opacity="0.755"/>
<rect x="553.214" y="677.16" width="1.833" height="5.67" fill-opacity="0.745"/>
<rect x="555.047" y="677.16" width="1.833" height="5.67" fill-opacity="0.736"/>
<rect x="556.880" y="677.16" width="1.833" height="5.67" fill-opacity="0.727"/>
<rect x="558.712" y="677.16" width="1.833" height="5.67" fill-opacity="0.718"/>
<rect x="560.545" y="677.16" width="1.833" height="5.67" fill-opacity="0.709"/>
<rect x="562.378" y="677.16" width="1.833" height="5.67" fill-opacity="0.700"/>
<rect x="564.210" y="677.16" width="1.833" height="5.67" fill-opacity="0.691"/>
<rect x="566.043" y="677.16" width="1.833" height="5.67" fill-opacity="0.682"/>
<rect x="567.876" y="677.16" width="1.833" height="5.67" fill-opacity="0.673"/>
<rect x="569.708" y="677.16" width="1.833" height="5.67" fill-opacity="0.664"/>
<rect x="571.541" y="677.16" width="1.833" height="5.67" fill-opacity="0.655"/>
<rect x="573.374" y="677.16" width="1.833" height="5.67" fill-opacity="0.645"/>
<rect x="575.206" y="677.16" width="1.833" height="5.67" fill-opacity="0.636"/>
<rect x="577.039" y="677.16" width="1.833" height="5.67" fill-opacity="0.627"/>
<rect x="578.871" y="677.16" width="1.833" height="5.67" fill-opacity="0.618"/>
<rect x="580.704" y="677.16" width="1.833" height="5.67" fill-opacity="0.609"/>
<rect x="582.537" y="677.16" width="1.833" height="5.67" fill-opacity="0.600"/>
<rect x="584.369" y="677.16" width="1.833" height="5.67" fill-opacity="0.591"/>
<rect x="586.202" y="677.16" width="1.833" height="5.67" fill-opacity="0.582"/>
<rect x="588.035" y="677.16" width="1.833" height="5.67" fill-opacity="0.573"/>
<rect x="589.867" y="677.16" width="1.833" height="5.67" fill-opacity="0.564"/>
<rect x="591.700" y="677.16" width="1.833" height="5.67" fill-opacity="0.555"/>
<rect x="593.533" y="677.16" width="1.833" height="5.67" fill-opacity="0.545"/>
<rect x="595.365" y="677.16" width="1.833" height="5.67" fill-opacity="0.536"/>
<rect x="597.198" y="677.16" width="1.833" height="5.67" fill-opacity="0.527"/>
<rect x="599.031" y="677.16" width="1.833" height="5.67" fill-opacity="0.518"/>
<rect x="600.863" y="677.16" width="1.833" height="5.67" fill-opacity="0.509"/>
<rect x="602.696" y="677.16" width="1.833" height="5.67" fill-opacity="0.500"/>
<rect x="604.529" y="677.16" width="1.833" height="5.67" fill-opacity="0.491"/>
<rect x="606.361" y="677.16" width="1.833" height="5.67" fill-opacity="0.482"/>
<rect x="608.194" y="677.16" width="1.833" height="5.67" fill-opacity="0.473"/>
<rect x="610.027" y="677.16" width="1.833" height="5.67" fill-opacity="0.464"/>
<rect x="611.859" y="677.16" width="1.833" height="5.67" fill-opacity="0.455"/>
<rect x="613.692" y="677.16" width="1.833" height="5.67" fill-opacity="0.445"/>
<rect x="615.525" y="677.16" width="1.833" height="5.67" fill-opacity="0.436"/>
<rect x="617.357" y="677.16" width="1.833" height="5.67" fill-opacity="0.427"/>
<rect x="619.190" y="677.16" width="1.833" height="5.67" fill-opacity="0.418"/>
<rect x="621.023" y="677.16" width="1.833" height="5.67" fill-opacity="0.409"/>
<rect x="622.855" y="677.16" width="1.833" height="5.67" fill-opacity="0.400"/>
<rect x="624.688" y="677.16" width="1.833" height="5.67" fill-opacity="0.391"/>
<rect x="626.521" y="677.16" width="1.833" height="5.67" fill-opacity="0.382"/>
<rect x="628.353" y="677.16" width="1.833" height="5.67" fill-opacity="0.373"/>
<rect x="630.186" y="677.16" width="1.833" height="5.67" fill-opacity="0.364"/>
<rect x="632.018" y="677.16" width="1.833" height="5.67" fill-opacity="0.355"/>
<rect x="633.851" y="677.16" width="1.833" height="5.67" fill-opacity="0.345"/>
<rect x="635.684" y="677.16" width="1.833" height="5.67" fill-opacity="0.336"/>
<rect x="637.516" y="677.16" width="1.833" height="5.67" fill-opacity="0.327"/>
<rect x="639.349" y="677.16" width="1.833" height="5.67" fill-opacity="0.318"/>
<rect x="641.182" y="677.16" width="1.833" height="5.67" fill-opacity="0.309"/>
<rect x="643.014" y="677.16" width="1.833" height="5.67" fill-opacity="0.300"/>
<rect x="644.847" y="677.16" width="1.833" height="5.67" fill-opacity="0.291"/>
<rect x="646.680" y="677.16" width="1.833" height="5.67" fill-opacity="0.282"/>
<rect x="648.512" y="677.16" width="1.833" height="5.67" fill-opacity="0.273"/>
<rect x="650.345" y="677.16" width="1.833" height="5.67" fill-opacity="0.264"/>
<rect x="652.178" y="677.16" width="1.833" height="5.67" fill-opacity="0.255"/>
<rect x="654.010" y="677.16" width="1.833" height="5.67" fill-opacity="0.245"/>
<rect x="655.843" y="677.16" width="1.833" height="5.67" fill-opacity="0.236"/>
<rect x="657.676" y="677.16" width="1.833" height="5.67" fill-opacity="0.227"/>
<rect x="659.508" y="677.16" width="1.833" height="5.67" fill-opacity="0.218"/>
<rect x="661.341" y="677.16" width="1.833" height="5.67" fill-opacity="0.209"/>
<rect x="663.174" y="677.16" width="1.833" height="5.67" fill-opacity="0.200"/>
<rect x="665.006" y="677.16" width="1.833" height="5.67" fill-opacity="0.191"/>
<rect x="666.839" y="677.16" width="1.833" height="5.67" fill-opacity="0.182"/>
<rect x="668.672" y="677.16" width="1.833" height="5.67" fill-opacity="0.173"/>
<rect x="670.504" y="677.16" width="1.833" height="5.67" fill-opacity="0.164"/>
<rect x="672.337" y="677.16" width="1.833" height="5.67" fill-opacity="0.155"/>
<rect x="674.170" y="677.16" width="1.833" height="5.67" fill-opacity="0.145"/>
<rect x="676.002" y="677.16" width="1.833" height="5.67" fill-opacity="0.136"/>
<rect x="677.835" y="677.16" width="1.833" height="5.67" fill-opacity="0.127"/>
<rect x="679.667" y="677.16" width="1.833" height="5.67" fill-opacity="0.118"/>
<rect x="681.500" y="677.16" width="1.833" height="5.67" fill-opacity="0.109"/>
</g>
<g fill="#4a3800">
<rect x="519.400" y="731.55" width="0.855" height="5.67" fill-opacity="1.000"/>
<rect x="520.255" y="731.55" width="0.855" height="5.67" fill-opacity="0.991"/>
<rect x="521.109" y="731.55" width="0.855" height="5.67" fill-opacity="0.982"/>
<rect x="521.964" y="731.55" width="0.855" height="5.67" fill-opacity="0.973"/>
<rect x="522.819" y="731.55" width="0.855" height="5.67" fill-opacity="0.964"/>
<rect x="523.673" y="731.55" width="0.855" height="5.67" fill-opacity="0.955"/>
<rect x="524.528" y="731.55" width="0.855" height="5.67" fill-opacity="0.945"/>
<rect x="525.383" y="731.55" width="0.855" height="5.67" fill-opacity="0.936"/>
<rect x="526.238" y="731.55" width="0.855" height="5.67" fill-opacity="0.927"/>
<rect x="527.092" y="731.55" width="0.855" height="5.67" fill-opacity="0.918"/>
<rect x="527.947" y="731.55" width="0.855" height="5.67" fill-opacity="0.909"/>
<rect x="528.802" y="731.55" width="0.855" height="5.67" fill-opacity="0.900"/>
<rect x="529.656" y="731.55" width="0.855" height="5.67" fill-opacity="0.891"/>
<rect x="530.511" y="731.55" width="0.855" height="5.67" fill-opacity="0.882"/>
<rect x="531.366" y="731.55" width="0.855" height="5.67" fill-opacity="0.873"/>
<rect x="532.220" y="731.55" width="0.855" height="5.67" fill-opacity="0.864"/>
<rect x="533.075" y="731.55" width="0.855" height="5.67" fill-opacity="0.855"/>
<rect x="533.930" y="731.55" width="0.855" height="5.67" fill-opacity="0.845"/>
<rect x="534.784" y="731.55" width="0.855" height="5.67" fill-opacity="0.836"/>
<rect x="535.639" y="731.55" width="0.855" height="5.67" fill-opacity="0.827"/>
<rect x="536.494" y="731.55" width="0.855" height="5.67" fill-opacity="0.818"/>
<rect x="537.349" y="731.55" width="0.855" height="5.67" fill-opacity="0.809"/>
<rect x="538.203" y="731.55" width="0.855" height="5.67" fill-opacity="0.800"/>
<rect x="539.058" y="731.55" width="0.855" height="5.67" fill-opacity="0.791"/>
<rect x="539.913" y="731.55" width="0.855" height="5.67" fill-opacity="0.782"/>
<rect x="540.767" y="731.55" width="0.855" height="5.67" fill-opacity="0.773"/>
<rect x="541.622" y="731.55" width="0.855" height="5.67" fill-opacity="0.764"/>
<rect x="542.477" y="731.55" width="0.855" height="5.67" fill-opacity="0.755"/>
<rect x="543.331" y="731.55" width="0.855" height="5.67" fill-opacity="0.745"/>
<rect x="544.186" y="731.55" width="0.855" height="5.67" fill-opacity="0.736"/>
<rect x="545.041" y="731.55" width="0.855" height="5.67" fill-opacity="0.727"/>
<rect x="545.895" y="731.55" width="0.855" height="5.67" fill-opacity="0.718"/>
<rect x="546.750" y="731.55" width="0.855" height="5.67" fill-opacity="0.709"/>
<rect x="547.605" y="731.55" width="0.855" height="5.67" fill-opacity="0.700"/>
<rect x="548.459" y="731.55" width="0.855" height="5.67" fill-opacity="0.691"/>
<rect x="549.314" y="731.55" width="0.855" height="5.67" fill-opacity="0.682"/>
<rect x="550.169" y="731.55" width="0.855" height="5.67" fill-opacity="0.673"/>
<rect x="551.024" y="731.55" width="0.855" height="5.67" fill-opacity="0.664"/>
<rect x="551.878" y="731.55" width="0.855" height="5.67" fill-opacity="0.655"/>
<rect x="552.733" y="731.55" width="0.855" height="5.67" fill-opacity="0.645"/>
<rect x="553.588" y="731.55" width="0.855" height="5.67" fill-opacity="0.636"/>
<rect x="554.442" y="731.55" width="0.855" height="5.67" fill-opacity="0.627"/>
<rect x="555.297" y="731.55" width="0.855" height="5.67" fill-opacity="0.618"/>
<rect x="556.152" y="731.55" width="0.855" height="5.67" fill-opacity="0.609"/>
<rect x="557.006" y="731.55" width="0.855" height="5.67" fill-opacity="0.600"/>
<rect x="557.861" y="731.55" width="0.855" height="5.67" fill-opacity="0.591"/>
<rect x="558.716" y="731.55" width="0.855" height="5.67" fill-opacity="0.582"/>
<rect x="559.570" y="731.55" width="0.855" height="5.67" fill-opacity="0.573"/>
<rect x="560.425" y="731.55" width="0.855" height="5.67" fill-opacity="0.564"/>
<rect x="561.280" y="731.55" width="0.855" height="5.67" fill-opacity="0.555"/>
<rect x="562.135" y="731.55" width="0.855" height="5.67" fill-opacity="0.545"/>
<rect x="562.989" y="731.55" width="0.855" height="5.67" fill-opacity="0.536"/>
<rect x="563.844" y="731.55" width="0.855" height="5.67" fill-opacity="0.527"/>
<rect x="564.699" y="731.55" width="0.855" height="5.67" fill-opacity="0.518"/>
<rect x="565.553" y="731.55" width="0.855" height="5.67" fill-opacity="0.509"/>
<rect x="566.408" y="731.55" width="0.855" height="5.67" fill-opacity="0.500"/>
<rect x="567.263" y="731.55" width="0.855" height="5.67" fill-opacity="0.491"/>
<rect x="568.117" y="731.55" width="0.855" height="5.67" fill-opacity="0.482"/>
<rect x="568.972" y="731.55" width="0.855" height="5.67" fill-opacity="0.473"/>
<rect x="569.827" y="731.55" width="0.855" height="5.67" fill-opacity="0.464"/>
<rect x="570.681" y="731.55" width="0.855" height="5.67" fill-opacity="0.455"/>
<rect x="571.536" y="731.55" width="0.855" height="5.67" fill-opacity="0.445"/>
<rect x="572.391" y="731.55" width="0.855" height="5.67" fill-opacity="0.436"/>
<rect x="573.246" y="731.55" width="0.855" height="5.67" fill-opacity="0.427"/>
<rect x="574.100" y="731.55" width="0.855" height="5.67" fill-opacity="0.418"/>
<rect x="574.955" y="731.55" width="0.855" height="5.67" fill-opacity="0.409"/>
<rect x="575.810" y="731.55" width="0.855" height="5.67" fill-opacity="0.400"/>
<rect x="576.664" y="731.55" width="0.855" height="5.67" fill-opacity="0.391"/>
<rect x="577.519" y="731.55" width="0.855" height="5.67" fill-opacity="0.382"/>
<rect x="578.374" y="731.55" width="0.855" height="5.67" fill-opacity="0.373"/>
<rect x="579.228" y="731.55" width="0.855" height="5.67" fill-opacity="0.364"/>
<rect x="580.083" y="731.55" width="0.855" height="5.67" fill-opacity="0.355"/>
<rect x="580.938" y="731.55" width="0.855" height="5.67" fill-opacity="0.345"/>
<rect x="581.792" y="731.55" width="0.855" height="5.67" fill-opacity="0.336"/>
<rect x="582.647" y="731.55" width="0.855" height="5.67" fill-opacity="0.327"/>
<rect x="583.502" y="731.55" width="0.855" height="5.67" fill-opacity="0.318"/>
<rect x="584.357" y="731.55" width="0.855" height="5.67" fill-opacity="0.309"/>
<rect x="585.211" y="731.55" width="0.855" height="5.67" fill-opacity="0.300"/>
<rect x="586.066" y="731.55" width="0.855" height="5.67" fill-opacity="0.291"/>
<rect x="586.921" y="731.55" width="0.855" height="5.67" fill-opacity="0.282"/>
<rect x="587.775" y="731.55" width="0.855" height="5.67" fill-opacity="0.273"/>
<rect x="588.630" y="731.55" width="0.855" height="5.67" fill-opacity="0.264"/>
<rect x="589.485" y="731.55" width="0.855" height="5.67" fill-opacity="0.255"/>
<rect x="590.339" y="731.55" width="0.855" height="5.67" fill-opacity="0.245"/>
<rect x="591.194" y="731.55" width="0.855" height="5.67" fill-opacity="0.236"/>
<rect x="592.049" y="731.55" width="0.855" height="5.67" fill-opacity="0.227"/>
<rect x="592.903" y="731.55" width="0.855" height="5.67" fill-opacity="0.218"/>
<rect x="593.758" y="731.55" width="0.855" height="5.67" fill-opacity="0.209"/>
<rect x="594.613" y="731.55" width="0.855" height="5.67" fill-opacity="0.200"/>
<rect x="595.467" y="731.55" width="0.855" height="5.67" fill-opacity="0.191"/>
<rect x="596.322" y="731.55" width="0.855" height="5.67" fill-opacity="0.182"/>
<rect x="597.177" y="731.55" width="0.855" height="5.67" fill-opacity="0.173"/>
<rect x="598.032" y="731.55" width="0.855" height="5.67" fill-opacity="0.164"/>
<rect x="598.886" y="731.55" width="0.855" height="5.67" fill-opacity="0.155"/>
<rect x="599.741" y="731.55" width="0.855" height="5.67" fill-opacity="0.145"/>
<rect x="600.596" y="731.55" width="0.855" height="5.67" fill-opacity="0.136"/>
<rect x="601.450" y="731.55" width="0.855" height="5.67" fill-opacity="0.127"/>
<rect x="602.305" y="731.55" width="0.855" height="5.67" fill-opacity="0.118"/>
<rect x="603.160" y="731.55" width="0.855" height="5.67" fill-opacity="0.109"/>
</g>
<g fill="#453c00">
<rect x="457.100" y="785.95" width="0.748" height="5.67" fill-opacity="1.000"/>
<rect x="457.848" y="785.95" width="0.748" height="5.67" fill-opacity="0.991"/>
<rect x="458.596" y="785.95" width="0.748" height="5.67" fill-opacity="0.982"/>
<rect x="459.344" y="785.95" width="0.748" height="5.67" fill-opacity="0.973"/>
<rect x="460.091" y="785.95" width="0.748" height="5.67" fill-opacity="0.964"/>
<rect x="460.839" y="785.95" width="0.748" height="5.67" fill-opacity="0.955"/>
<rect x="461.587" y="785.95" width="0.748" height="5.67" fill-opacity="0.945"/>
<rect x="462.335" y="785.95" width="0.748" height="5.67" fill-opacity="0.936"/>
<rect x="463.083" y="785.95" width="0.748" height="5.67" fill-opacity="0.927"/>
<rect x="463.831" y="785.95" width="0.748" height="5.67" fill-opacity="0.918"/>
<rect x="464.579" y="785.95" width="0.748" height="5.67" fill-opacity="0.909"/>
<rect x="465.326" y="785.95" width="0.748" height="5.67" fill-opacity="0.900"/>
<rect x="466.074" y="785.95" width="0.748" height="5.67" fill-opacity="0.891"/>
<rect x="466.822" y="785.95" width="0.748" height="5.67" fill-opacity="0.882"/>
<rect x="467.570" y="785.95" width="0.748" height="5.67" fill-opacity="0.873"/>
<rect x="468.318" y="785.95" width="0.748" height="5.67" fill-opacity="0.864"/>
<rect x="469.066" y="785.95" width="0.748" height="5.67" fill-opacity="0.855"/>
<rect x="469.814" y="785.95" width="0.748" height="5.67" fill-opacity="0.845"/>
<rect x="470.561" y="785.95" width="0.748" height="5.67" fill-opacity="0.836"/>
<rect x="471.309" y="785.95" width="0.748" height="5.67" fill-opacity="0.827"/>
<rect x="472.057" y="785.95" width="0.748" height="5.67" fill-opacity="0.818"/>
<rect x="472.805" y="785.95" width="0.748" height="5.67" fill-opacity="0.809"/>
<rect x="473.553" y="785.95" width="0.748" height="5.67" fill-opacity="0.800"/>
<rect x="474.301" y="785.95" width="0.748" height="5.67" fill-opacity="0.791"/>
<rect x="475.049" y="785.95" width="0.748" height="5.67" fill-opacity="0.782"/>
<rect x="475.796" y="785.95" width="0.748" height="5.67" fill-opacity="0.773"/>
<rect x="476.544" y="785.95" width="0.748" height="5.67" fill-opacity="0.764"/>
<rect x="477.292" y="785.95" width="0.748" height="5.67" fill-opacity="0.755"/>
<rect x="478.040" y="785.95" width="0.748" height="5.67" fill-opacity="0.745"/>
<rect x="478.788" y="785.95" width="0.748" height="5.67" fill-opacity="0.736"/>
<rect x="479.536" y="785.95" width="0.748" height="5.67" fill-opacity="0.727"/>
<rect x="480.283" y="785.95" width="0.748" height="5.67" fill-opacity="0.718"/>
<rect x="481.031" y="785.95" width="0.748" height="5.67" fill-opacity="0.709"/>
<rect x="481.779" y="785.95" width="0.748" height="5.67" fill-opacity="0.700"/>
<rect x="482.527" y="785.95" width="0.748" height="5.67" fill-opacity="0.691"/>
<rect x="483.275" y="785.95" width="0.748" height="5.67" fill-opacity="0.682"/>
<rect x="484.023" y="785.95" width="0.748" height="5.67" fill-opacity="0.673"/>
<rect x="484.771" y="785.95" width="0.748" height="5.67" fill-opacity="0.664"/>
<rect x="485.518" y="785.95" width="0.748" height="5.67" fill-opacity="0.655"/>
<rect x="486.266" y="785.95" width="0.748" height="5.67" fill-opacity="0.645"/>
<rect x="487.014" y="785.95" width="0.748" height="5.67" fill-opacity="0.636"/>
<rect x="487.762" y="785.95" width="0.748" height="5.67" fill-opacity="0.627"/>
<rect x="488.510" y="785.95" width="0.748" height="5.67" fill-opacity="0.618"/>
<rect x="489.258" y="785.95" width="0.748" height="5.67" fill-opacity="0.609"/>
<rect x="490.006" y="785.95" width="0.748" height="5.67" fill-opacity="0.600"/>
<rect x="490.753" y="785.95" width="0.748" height="5.67" fill-opacity="0.591"/>
<rect x="491.501" y="785.95" width="0.748" height="5.67" fill-opacity="0.582"/>
<rect x="492.249" y="785.95" width="0.748" height="5.67" fill-opacity="0.573"/>
<rect x="492.997" y="785.95" width="0.748" height="5.67" fill-opacity="0.564"/>
<rect x="493.745" y="785.95" width="0.748" height="5.67" fill-opacity="0.555"/>
<rect x="494.493" y="785.95" width="0.748" height="5.67" fill-opacity="0.545"/>
<rect x="495.241" y="785.95" width="0.748" height="5.67" fill-opacity="0.536"/>
<rect x="495.988" y="785.95" width="0.748" height="5.67" fill-opacity="0.527"/>
<rect x="496.736" y="785.95" width="0.748" height="5.67" fill-opacity="0.518"/>
<rect x="497.484" y="785.95" width="0.748" height="5.67" fill-opacity="0.509"/>
<rect x="498.232" y="785.95" width="0.748" height="5.67" fill-opacity="0.500"/>
<rect x="498.980" y="785.95" width="0.748" height="5.67" fill-opacity="0.491"/>
<rect x="499.728" y="785.95" width="0.748" height="5.67" fill-opacity="0.482"/>
<rect x="500.476" y="785.95" width="0.748" height="5.67" fill-opacity="0.473"/>
<rect x="501.223" y="785.95" width="0.748" height="5.67" fill-opacity="0.464"/>
<rect x="501.971" y="785.95" width="0.748" height="5.67" fill-opacity="0.455"/>
<rect x="502.719" y="785.95" width="0.748" height="5.67" fill-opacity="0.445"/>
<rect x="503.467" y="785.95" width="0.748" height="5.67" fill-opacity="0.436"/>
<rect x="504.215" y="785.95" width="0.748" height="5.67" fill-opacity="0.427"/>
<rect x="504.963" y="785.95" width="0.748" height="5.67" fill-opacity="0.418"/>
<rect x="505.711" y="785.95" width="0.748" height="5.67" fill-opacity="0.409"/>
<rect x="506.458" y="785.95" width="0.748" height="5.67" fill-opacity="0.400"/>
<rect x="507.206" y="785.95" width="0.748" height="5.67" fill-opacity="0.391"/>
<rect x="507.954" y="785.95" width="0.748" height="5.67" fill-opacity="0.382"/>
<rect x="508.702" y="785.95" width="0.748" height="5.67" fill-opacity="0.373"/>
<rect x="509.450" y="785.95" width="0.748" height="5.67" fill-opacity="0.364"/>
<rect x="510.198" y="785.95" width="0.748" height="5.67" fill-opacity="0.355"/>
<rect x="510.946" y="785.95" width="0.748" height="5.67" fill-opacity="0.345"/>
<rect x="511.693" y="785.95" width="0.748" height="5.67" fill-opacity="0.336"/>
<rect x="512.441" y="785.95" width="0.748" height="5.67" fill-opacity="0.327"/>
<rect x="513.189" y="785.95" width="0.748" height="5.67" fill-opacity="0.318"/>
<rect x="513.937" y="785.95" width="0.748" height="5.67" fill-opacity="0.309"/>
<rect x="514.685" y="785.95" width="0.748" height="5.67" fill-opacity="0.300"/>
<rect x="515.433" y="785.95" width="0.748" height="5.67" fill-opacity="0.291"/>
<rect x="516.181" y="785.95" width="0.748" height="5.67" fill-opacity="0.282"/>
<rect x="516.928" y="785.95" width="0.748" height="5.67" fill-opacity="0.273"/>
<rect x="517.676" y="785.95" width="0.748" height="5.67" fill-opacity="0.264"/>
<rect x="518.424" y="785.95" width="0.748" height="5.67" fill-opacity="0.255"/>
<rect x="519.172" y="785.95" width="0.748" height="5.67" fill-opacity="0.245"/>
<rect x="519.920" y="785.95" width="0.748" height="5.67" fill-opacity="0.236"/>
<rect x="520.668" y="785.95" width="0.748" height="5.67" fill-opacity="0.227"/>
<rect x="521.415" y="785.95" width="0.748" height="5.67" fill-opacity="0.218"/>
<rect x="522.163" y="785.95" width="0.748" height="5.67" fill-opacity="0.209"/>
<rect x="522.911" y="785.95" width="0.748" height="5.67" fill-opacity="0.200"/>
<rect x="523.659" y="785.95" width="0.748" height="5.67" fill-opacity="0.191"/>
<rect x="524.407" y="785.95" width="0.748" height="5.67" fill-opacity="0.182"/>
<rect x="525.155" y="785.95" width="0.748" height="5.67" fill-opacity="0.173"/>
<rect x="525.903" y="785.95" width="0.748" height="5.67" fill-opacity="0.164"/>
<rect x="526.650" y="785.95" width="0.748" height="5.67" fill-opacity="0.155"/>
<rect x="527.398" y="785.95" width="0.748" height="5.67" fill-opacity="0.145"/>
<rect x="528.146" y="785.95" width="0.748" height="5.67" fill-opacity="0.136"/>
<rect x="528.894" y="785.95" width="0.748" height="5.67" fill-opacity="0.127"/>
<rect x="529.642" y="785.95" width="0.748" height="5.67" fill-opacity="0.118"/>
<rect x="530.390" y="785.95" width="0.748" height="5.67" fill-opacity="0.109"/>
</g>
<g fill="#184d00">
<rect x="387" y="840.33" width="1" height="5.67" fill-opacity="0.550"/>
<rect x="388" y="840.33" width="1" height="5.67" fill-opacity="0.633"/>
<rect x="389" y="840.33" width="1" height="5.67" fill-opacity="0.607"/>
<rect x="390" y="840.33" width="1" height="5.67" fill-opacity="0.581"/>
<rect x="391" y="840.33" width="1" height="5.67" fill-opacity="0.552"/>
<rect x="392" y="840.33" width="1" height="5.67" fill-opacity="0.522"/>
<rect x="393" y="840.33" width="1" height="5.67" fill-opacity="0.490"/>
<rect x="394" y="840.33" width="1" height="5.67" fill-opacity="0.456"/>
<rect x="395" y="840.33" width="1" height="5.67" fill-opacity="0.421"/>
<rect x="396" y="840.33" width="1" height="5.67" fill-opacity="0.383"/>
<rect x="397" y="840.33" width="1" height="5.67" fill-opacity="0.343"/>
<rect x="398" y="840.33" width="1" height="5.67" fill-opacity="0.302"/>
<rect x="399" y="840.33" width="1" height="5.67" fill-opacity="0.257"/>
<rect x="400" y="840.33" width="1" height="5.67" fill-opacity="0.211"/>
<rect x="401" y="840.33" width="1" height="5.67" fill-opacity="0.162"/>
<rect x="402" y="840.33" width="1" height="5.67" fill-opacity="0.086"/>
</g>
<text transform="translate(1276.70,144.00) scale(1,1.025)" font-size="20.70" fill="#000000" stroke="#000000" stroke-width="0.20" text-anchor="end">166</text>
<text transform="translate(1283.82,143.00) scale(1,1.025)" font-size="17.30" fill="#9a9a9a" stroke="#9a9a9a" stroke-width="0.20">167</text>
<text transform="translate(1144.10,199.00) scale(1,1.025)" font-size="20.70" fill="#000000" stroke="#000000" stroke-width="0.20" text-anchor="end">150</text>
<text transform="translate(1143.90,197.00) scale(1,1.025)" font-size="17.30" fill="#9a9a9a" stroke="#9a9a9a" stroke-width="0.20">150</text>
<text transform="translate(1054.60,253.00) scale(1,1.025)" font-size="20.70" fill="#000000" stroke="#000000" stroke-width="0.20" text-anchor="end">139</text>
<text transform="translate(1054.40,252.00) scale(1,1.025)" font-size="17.30" fill="#9a9a9a" stroke="#9a9a9a" stroke-width="0.20">139</text>
<text transform="translate(926.70,307.00) scale(1,1.025)" font-size="20.70" fill="#000000" stroke="#000000" stroke-width="0.20" text-anchor="end">123</text>
<text transform="translate(1016.00,306.00) scale(1,1.025)" font-size="17.30" fill="#9a9a9a" stroke="#9a9a9a" stroke-width="0.20">134</text>
<text transform="translate(861.95,362.00) scale(1,1.025)" font-size="20.70" fill="#000000" stroke="#000000" stroke-width="0.20" text-anchor="end">115</text>
<text transform="translate(991.11,360.00) scale(1,1.025)" font-size="17.30" fill="#9a9a9a" stroke="#9a9a9a" stroke-width="0.20">131</text>
<text transform="translate(973.50,416.00) scale(1,1.025)" font-size="20.70" fill="#000000" stroke="#000000" stroke-width="0.20" text-anchor="end">129</text>
<text transform="translate(973.30,415.00) scale(1,1.025)" font-size="17.30" fill="#9a9a9a" stroke="#9a9a9a" stroke-width="0.20">129</text>
<text transform="translate(725.70,470.00) scale(1,1.025)" font-size="20.70" fill="#000000" stroke="#000000" stroke-width="0.20" text-anchor="end">98</text>
<text transform="translate(768.62,469.00) scale(1,1.025)" font-size="17.30" fill="#9a9a9a" stroke="#9a9a9a" stroke-width="0.20">104</text>
<text transform="translate(666.95,525.00) scale(1,1.025)" font-size="20.70" fill="#000000" stroke="#000000" stroke-width="0.20" text-anchor="end">91</text>
<text transform="translate(754.62,524.00) scale(1,1.025)" font-size="17.30" fill="#9a9a9a" stroke="#9a9a9a" stroke-width="0.20">102</text>
<text transform="translate(741.80,579.00) scale(1,1.025)" font-size="20.70" fill="#000000" stroke="#000000" stroke-width="0.20" text-anchor="end">100</text>
<text transform="translate(744.04,578.00) scale(1,1.025)" font-size="17.30" fill="#9a9a9a" stroke="#9a9a9a" stroke-width="0.20">101</text>
<text transform="translate(692.10,634.00) scale(1,1.025)" font-size="20.70" fill="#000000" stroke="#000000" stroke-width="0.20" text-anchor="end">94</text>
<text transform="translate(691.90,632.00) scale(1,1.025)" font-size="17.30" fill="#9a9a9a" stroke="#9a9a9a" stroke-width="0.20">94</text>
<text transform="translate(501.60,688.00) scale(1,1.025)" font-size="20.70" fill="#000000" stroke="#000000" stroke-width="0.20" text-anchor="end">71</text>
<text transform="translate(682.83,687.00) scale(1,1.025)" font-size="17.30" fill="#9a9a9a" stroke="#9a9a9a" stroke-width="0.20">93</text>
<text transform="translate(519.10,742.00) scale(1,1.025)" font-size="20.70" fill="#000000" stroke="#000000" stroke-width="0.20" text-anchor="end">73</text>
<text transform="translate(603.51,741.00) scale(1,1.025)" font-size="17.30" fill="#9a9a9a" stroke="#9a9a9a" stroke-width="0.20">83</text>
<text transform="translate(456.80,797.00) scale(1,1.025)" font-size="20.70" fill="#000000" stroke="#000000" stroke-width="0.20" text-anchor="end">65</text>
<text transform="translate(530.64,796.00) scale(1,1.025)" font-size="17.30" fill="#9a9a9a" stroke="#9a9a9a" stroke-width="0.20">74</text>
<text transform="translate(386.95,851.00) scale(1,1.025)" font-size="20.70" fill="#000000" stroke="#000000" stroke-width="0.20" text-anchor="end">57</text>
<text transform="translate(402.21,850.00) scale(1,1.025)" font-size="17.30" fill="#9a9a9a" stroke="#9a9a9a" stroke-width="0.20">59</text>
<rect x="343.30" y="104.30" width="985.40" height="771.00" fill="none" stroke="#a5a5a5" stroke-width="1.42"/>
<line x1="536.10" y1="875.30" x2="536.10" y2="883.00" stroke="#a5a5a5" stroke-width="1.42"/>
<line x1="739.50" y1="875.30" x2="739.50" y2="883.00" stroke="#a5a5a5" stroke-width="1.42"/>
<line x1="942.90" y1="875.30" x2="942.90" y2="883.00" stroke="#a5a5a5" stroke-width="1.42"/>
<line x1="1146.30" y1="875.30" x2="1146.30" y2="883.00" stroke="#a5a5a5" stroke-width="1.42"/>
<line x1="335.30" y1="136.20" x2="343.30" y2="136.20" stroke="#a5a5a5" stroke-width="1.42"/>
<line x1="335.30" y1="190.59" x2="343.30" y2="190.59" stroke="#a5a5a5" stroke-width="1.42"/>
<line x1="335.30" y1="244.98" x2="343.30" y2="244.98" stroke="#a5a5a5" stroke-width="1.42"/>
<line x1="335.30" y1="299.37" x2="343.30" y2="299.37" stroke="#a5a5a5" stroke-width="1.42"/>
<line x1="335.30" y1="353.76" x2="343.30" y2="353.76" stroke="#a5a5a5" stroke-width="1.42"/>
<line x1="335.30" y1="408.15" x2="343.30" y2="408.15" stroke="#a5a5a5" stroke-width="1.42"/>
<line x1="335.30" y1="462.54" x2="343.30" y2="462.54" stroke="#a5a5a5" stroke-width="1.42"/>
<line x1="335.30" y1="516.93" x2="343.30" y2="516.93" stroke="#a5a5a5" stroke-width="1.42"/>
<line x1="335.30" y1="571.32" x2="343.30" y2="571.32" stroke="#a5a5a5" stroke-width="1.42"/>
<line x1="335.30" y1="625.71" x2="343.30" y2="625.71" stroke="#a5a5a5" stroke-width="1.42"/>
<line x1="335.30" y1="680.10" x2="343.30" y2="680.10" stroke="#a5a5a5" stroke-width="1.42"/>
<line x1="335.30" y1="734.49" x2="343.30" y2="734.49" stroke="#a5a5a5" stroke-width="1.42"/>
<line x1="335.30" y1="788.88" x2="343.30" y2="788.88" stroke="#a5a5a5" stroke-width="1.42"/>
<line x1="335.30" y1="843.27" x2="343.30" y2="843.27" stroke="#a5a5a5" stroke-width="1.42"/>
<text transform="translate(535.80,906.00) scale(1,1.050)" font-size="23.50" fill="#3b3b3b" stroke="#3b3b3b" stroke-width="0.20" text-anchor="middle">75</text>
<text transform="translate(739.20,906.00) scale(1,1.050)" font-size="23.50" fill="#3b3b3b" stroke="#3b3b3b" stroke-width="0.20" text-anchor="middle">100</text>
<text transform="translate(942.60,906.00) scale(1,1.050)" font-size="23.50" fill="#3b3b3b" stroke="#3b3b3b" stroke-width="0.20" text-anchor="middle">125</text>
<text transform="translate(1146.00,906.00) scale(1,1.050)" font-size="23.50" fill="#3b3b3b" stroke="#3b3b3b" stroke-width="0.20" text-anchor="middle">150</text>
<text transform="translate(330.05,145.00) scale(1,1.015)" font-size="23.50" fill="#3b3b3b" stroke="#3b3b3b" stroke-width="0.20" text-anchor="end">Indaiatuba Pats (0.9)</text>
<text transform="translate(330.05,200.00) scale(1,1.015)" font-size="23.50" fill="#3b3b3b" stroke="#3b3b3b" stroke-width="0.20" text-anchor="end">Sorocaba Steelers (0)</text>
<text transform="translate(330.05,254.00) scale(1,1.015)" font-size="23.50" fill="#3b3b3b" stroke="#3b3b3b" stroke-width="0.20" text-anchor="end">Paulinia Robots (0)</text>
<text transform="translate(330.05,308.00) scale(1,1.015)" font-size="23.50" fill="#3b3b3b" stroke="#3b3b3b" stroke-width="0.20" text-anchor="end">Indaiatuba Riders (11)</text>
<text transform="translate(330.05,363.00) scale(1,1.015)" font-size="23.50" fill="#3b3b3b" stroke="#3b3b3b" stroke-width="0.20" text-anchor="end">Limeira Jetsons (15.9)</text>
<text transform="translate(330.05,417.00) scale(1,1.015)" font-size="23.50" fill="#3b3b3b" stroke="#3b3b3b" stroke-width="0.20" text-anchor="end">Indaiatuba Blues (0)</text>
<text transform="translate(330.05,471.00) scale(1,1.015)" font-size="23.50" fill="#3b3b3b" stroke="#3b3b3b" stroke-width="0.20" text-anchor="end">Goncalves Miners (5.3)</text>
<text transform="translate(330.05,526.00) scale(1,1.015)" font-size="23.50" fill="#3b3b3b" stroke="#3b3b3b" stroke-width="0.20" text-anchor="end">Campinas Giants (10.8)</text>
<text transform="translate(330.05,580.00) scale(1,1.015)" font-size="23.50" fill="#3b3b3b" stroke="#3b3b3b" stroke-width="0.20" text-anchor="end">Amparo Bikers (0.3)</text>
<text transform="translate(330.05,635.00) scale(1,1.015)" font-size="23.50" fill="#3b3b3b" stroke="#3b3b3b" stroke-width="0.20" text-anchor="end">Rio Claro Farmers (0)</text>
<text transform="translate(330.05,689.00) scale(1,1.015)" font-size="23.50" fill="#3b3b3b" stroke="#3b3b3b" stroke-width="0.20" text-anchor="end">Barao Butchers (22.3)</text>
<text transform="translate(330.05,743.00) scale(1,1.015)" font-size="23.50" fill="#3b3b3b" stroke="#3b3b3b" stroke-width="0.20" text-anchor="end">London Knights (10.4)</text>
<text transform="translate(330.05,798.00) scale(1,1.015)" font-size="23.50" fill="#3b3b3b" stroke="#3b3b3b" stroke-width="0.20" text-anchor="end">Sorocaba Wild Mules (9.1)</text>
<text transform="translate(330.05,852.00) scale(1,1.015)" font-size="23.50" fill="#3b3b3b" stroke="#3b3b3b" stroke-width="0.20" text-anchor="end">Limeira Dead Rabbits (1.9)</text>
<text transform="translate(342.40,40.00) scale(1,1.015)" font-size="35.20" fill="#000000" stroke="#000000" stroke-width="0.30">Best Roster Potential</text>
<text transform="translate(342.80,83.00) scale(1,1.015)" font-size="29.30" fill="#000000" stroke="#000000" stroke-width="0.25">Actual Score vs Best Roster Score</text>
<text transform="translate(836.00,940.00) scale(1,1.015)" font-size="29.30" fill="#000000" stroke="#000000" stroke-width="0.25" text-anchor="middle">fantasy points</text>
<text transform="translate(36.00,490.10) rotate(-90) scale(1,1.015)" font-size="29.30" fill="#000000" stroke="#000000" stroke-width="0.25" text-anchor="middle">Team (points left in bench)</text>
</svg>
</body></html>
